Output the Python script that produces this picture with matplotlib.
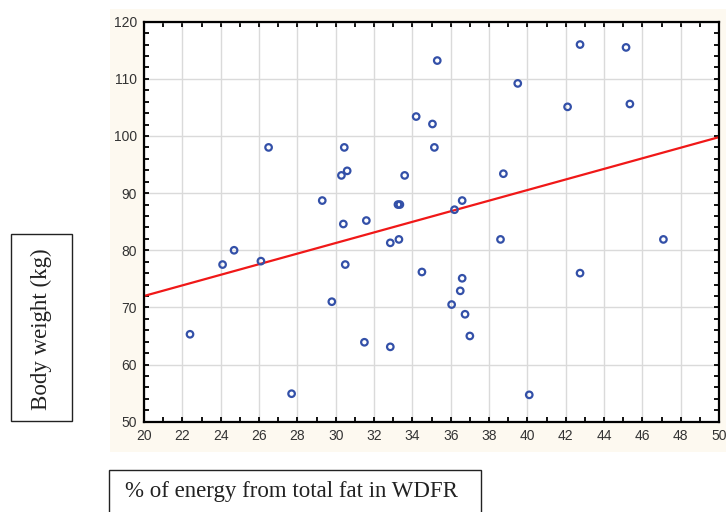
import matplotlib
matplotlib.use("Agg")
import matplotlib.pyplot as plt
from matplotlib.patches import Rectangle
from matplotlib.ticker import MultipleLocator

# % of energy from total fat in WDFR vs body weight (kg)
fat_pct = [22.4, 24.1, 24.7, 26.1, 26.5, 27.7, 29.3, 29.8, 30.3, 30.4,
           30.45, 30.5, 30.6, 31.5, 31.6, 32.85, 32.85, 33.25, 33.3, 33.35,
           33.6, 34.2, 34.5, 35.05, 35.15, 35.3, 36.05, 36.2, 36.5, 36.6,
           36.6, 36.75, 37.0, 38.6, 38.75, 39.5, 40.1, 42.1, 42.75, 42.75,
           45.15, 45.35, 47.1]
body_weight = [65.3, 77.5, 80.0, 78.1, 98.0, 54.9, 88.7, 71.0, 93.1, 84.6,
               98.0, 77.5, 93.9, 63.9, 85.2, 81.3, 63.1, 88.0, 81.9, 88.0,
               93.1, 103.4, 76.2, 102.1, 98.0, 113.2, 70.5, 87.1, 72.9, 75.1,
               88.7, 68.8, 65.0, 81.9, 93.4, 109.2, 54.7, 105.1, 116.0, 76.0,
               115.5, 105.6, 81.9]

# regression line end points
fit_x = [20, 50]
fit_y = [72.0, 99.8]

fig = plt.figure(figsize=(7.26, 5.12), dpi=100)

# light beige panel behind the plot
fig.patches.append(Rectangle((110 / 726, 60 / 512), 616 / 726, 443 / 512,
                             transform=fig.transFigure, facecolor='#fdf9f0',
                             edgecolor='none', zorder=-1))

ax = fig.add_axes([144 / 726, 90.3 / 512, 575 / 726, 400 / 512])
ax.set_facecolor('white')
ax.scatter(fat_pct, body_weight, s=22, facecolors='none',
           edgecolors='#3350a8', linewidths=1.6, zorder=3)
ax.plot(fit_x, fit_y, color='#f01818', lw=1.6, zorder=2)

ax.set_xlim(20, 50)
ax.set_ylim(50, 120)
ax.xaxis.set_major_locator(MultipleLocator(2))
ax.xaxis.set_minor_locator(MultipleLocator(1))
ax.yaxis.set_major_locator(MultipleLocator(10))
ax.yaxis.set_minor_locator(MultipleLocator(2))
ax.grid(True, which='major', color='#dadada', lw=1.0, zorder=0)
ax.set_axisbelow(True)
for sp in ax.spines.values():
    sp.set_linewidth(1.6)
ax.tick_params(which='both', direction='in', top=True, right=True,
               length=3.5, width=1.3, labelsize=10, labelcolor='#333333',
               pad=5)
for lab in ax.get_xticklabels() + ax.get_yticklabels():
    lab.set_family('Liberation Sans')

# boxed axis labels outside the panel
fig.patches.append(Rectangle((11 / 726, 91 / 512), 61 / 726, 187 / 512,
                             transform=fig.transFigure, facecolor='white',
                             edgecolor='#222222', lw=1.0))
fig.text(41.5 / 726, (512 - 329) / 512, 'Body weight (kg)', rotation=90,
         ha='center', va='center', family='Liberation Serif', fontsize=16.5,
         color='#222222')

fig.patches.append(Rectangle((109 / 726, -20 / 512), 372 / 726, 62 / 512,
                             transform=fig.transFigure, facecolor='white',
                             edgecolor='#222222', lw=1.0))
fig.text(125 / 726, (512 - 491) / 512, '% of energy from total fat in WDFR',
         ha='left', va='center', family='Liberation Serif', fontsize=16.5,
         color='#222222')

fig.savefig('out.png', dpi=100)
